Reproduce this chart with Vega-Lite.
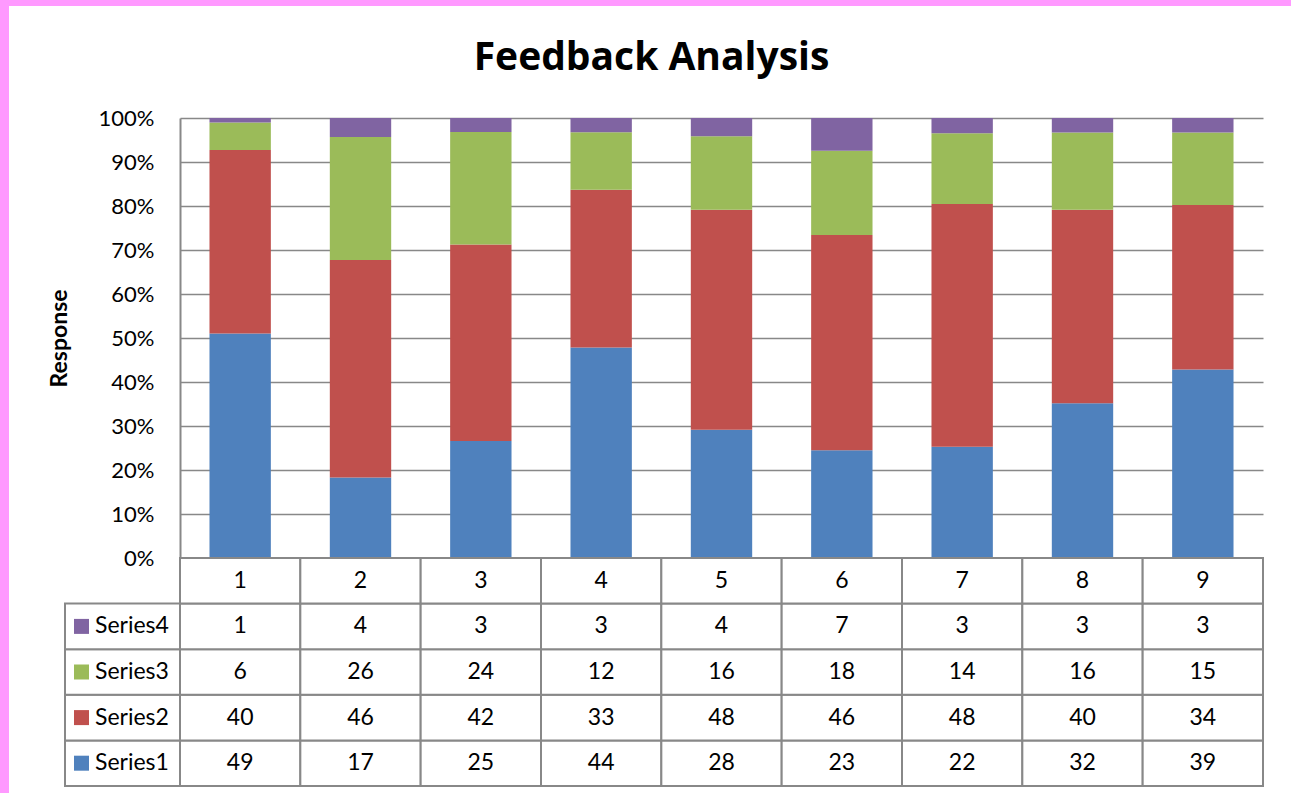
{
  "$schema": "https://vega.github.io/schema/vega-lite/v6.json",
  "background": "white",
  "padding": 0,
  "config": {
    "font": "Lato",
    "view": {"stroke": null},
    "text": {"font": "Lato", "fontSize": 23, "color": "black"}
  },
  "datasets": {
    "blank": [{}],
    "main": [
      {"category": "1", "series": "Series1", "value": 49},
      {"category": "1", "series": "Series2", "value": 40},
      {"category": "1", "series": "Series3", "value": 6},
      {"category": "1", "series": "Series4", "value": 1},
      {"category": "2", "series": "Series1", "value": 17},
      {"category": "2", "series": "Series2", "value": 46},
      {"category": "2", "series": "Series3", "value": 26},
      {"category": "2", "series": "Series4", "value": 4},
      {"category": "3", "series": "Series1", "value": 25},
      {"category": "3", "series": "Series2", "value": 42},
      {"category": "3", "series": "Series3", "value": 24},
      {"category": "3", "series": "Series4", "value": 3},
      {"category": "4", "series": "Series1", "value": 44},
      {"category": "4", "series": "Series2", "value": 33},
      {"category": "4", "series": "Series3", "value": 12},
      {"category": "4", "series": "Series4", "value": 3},
      {"category": "5", "series": "Series1", "value": 28},
      {"category": "5", "series": "Series2", "value": 48},
      {"category": "5", "series": "Series3", "value": 16},
      {"category": "5", "series": "Series4", "value": 4},
      {"category": "6", "series": "Series1", "value": 23},
      {"category": "6", "series": "Series2", "value": 46},
      {"category": "6", "series": "Series3", "value": 18},
      {"category": "6", "series": "Series4", "value": 7},
      {"category": "7", "series": "Series1", "value": 22},
      {"category": "7", "series": "Series2", "value": 48},
      {"category": "7", "series": "Series3", "value": 14},
      {"category": "7", "series": "Series4", "value": 3},
      {"category": "8", "series": "Series1", "value": 32},
      {"category": "8", "series": "Series2", "value": 40},
      {"category": "8", "series": "Series3", "value": 16},
      {"category": "8", "series": "Series4", "value": 3},
      {"category": "9", "series": "Series1", "value": 39},
      {"category": "9", "series": "Series2", "value": 34},
      {"category": "9", "series": "Series3", "value": 15},
      {"category": "9", "series": "Series4", "value": 3}
    ]
  },
  "columns": 3,
  "spacing": 0,
  "bounds": "flush",
  "align": "each",
  "concat": [
    {"width": 9, "height": 6, "data": {"name": "blank"}, "mark": {"type": "rect", "color": "#FF99FF"}, "encoding": {}},
    {"width": 171, "height": 6, "data": {"name": "blank"}, "mark": {"type": "rect", "color": "#FF99FF"}, "encoding": {}},
    {"width": 1111, "height": 6, "data": {"name": "blank"}, "mark": {"type": "rect", "color": "#FF99FF"}, "encoding": {}},

    {"width": 9, "height": 112, "data": {"name": "blank"}, "mark": {"type": "rect", "color": "#FF99FF"}, "encoding": {}},
    {"width": 171, "height": 112, "data": {"name": "blank"}, "mark": {"type": "point", "opacity": 0}, "encoding": {}},
    {"width": 1083, "height": 112, "data": {"name": "blank"}, "mark": {"type": "point", "opacity": 0}, "encoding": {}},

    {"width": 9, "height": 440, "data": {"name": "blank"}, "mark": {"type": "rect", "color": "#FF99FF"}, "encoding": {}},
    {"width": 171, "height": 440, "data": {"name": "blank"}, "mark": {"type": "point", "opacity": 0}, "encoding": {}},
    {
      "width": 1083,
      "height": 440,
      "title": {"text": "Feedback Analysis", "font": "Open Sans", "fontSize": 39, "fontWeight": "bold", "color": "black", "anchor": "middle", "frame": "group", "dx": -70, "offset": 29},
      "data": {"name": "main"},
      "mark": {"type": "bar"},
      "encoding": {
        "x": {"field": "category", "type": "nominal", "sort": ["1","2","3","4","5","6","7","8","9"], "scale": {"paddingInner": 0.49, "paddingOuter": 0.245}, "axis": null},
        "y": {
          "aggregate": "sum", "field": "value", "type": "quantitative", "stack": "normalize",
          "axis": {
            "title": "Response", "titleFont": "Lato", "titleFontSize": 23, "titleFontWeight": "bold", "titleColor": "black", "titlePadding": 27,
            "values": [0, 0.1, 0.2, 0.3, 0.4, 0.5, 0.6, 0.7, 0.8, 0.9, 1],
            "format": ".0%", "labelFont": "Lato", "labelFontSize": 22, "labelColor": "black", "labelPadding": 26,
            "ticks": false, "domainColor": "#888888", "domainWidth": 2,
            "grid": true, "gridColor": "#888888", "gridWidth": 1.5
          }
        },
        "color": {"field": "series", "type": "nominal", "scale": {"domain": ["Series1", "Series2", "Series3", "Series4"], "range": ["#4F81BD", "#C0504D", "#9BBB59", "#8064A2"]}, "legend": null},
        "order": {"field": "series", "sort": "ascending"}
      }
    },

    {"width": 9, "height": 235, "data": {"name": "blank"}, "mark": {"type": "rect", "color": "#FF99FF"}, "encoding": {}},
    {
      "width": 171,
      "height": 235,
      "data": {"name": "main"},
      "transform": [{"filter": "datum.category == '1'"}],
      "layer": [
        {
          "mark": {"type": "rect", "fill": "white", "stroke": "#888888", "strokeWidth": 2},
          "encoding": {
            "x": {"datum": "legend", "type": "nominal", "scale": {"domain": ["legend"], "paddingInner": 0, "paddingOuter": 0.2435, "align": 1}, "axis": null},
            "y": {"field": "series", "type": "nominal", "scale": {"domain": ["Category", "Series4", "Series3", "Series2", "Series1"], "paddingInner": 0, "paddingOuter": 0.0768, "align": 0}, "axis": null}
          }
        },
        {
          "mark": {"type": "square", "size": 225, "opacity": 1, "filled": true},
          "encoding": {
            "x": {"datum": "legend", "type": "nominal", "bandPosition": 0.1435},
            "y": {"field": "series", "type": "nominal"},
            "color": {"field": "series", "type": "nominal", "scale": {"domain": ["Series1", "Series2", "Series3", "Series4"], "range": ["#4F81BD", "#C0504D", "#9BBB59", "#8064A2"]}, "legend": null}
          }
        },
        {
          "mark": {"type": "text", "align": "left", "baseline": "middle", "fontSize": 23},
          "encoding": {
            "x": {"datum": "legend", "type": "nominal", "bandPosition": 0.261},
            "y": {"field": "series", "type": "nominal"},
            "text": {"field": "series"}
          }
        }
      ]
    },
    {
      "width": 1083,
      "height": 235,
      "data": {"name": "main"},
      "layer": [
        {
          "mark": {"type": "rect", "fill": "white", "stroke": "#888888", "strokeWidth": 2},
          "encoding": {
            "x": {"field": "category", "type": "nominal", "sort": ["1","2","3","4","5","6","7","8","9"], "scale": {"paddingInner": 0, "paddingOuter": 0}, "axis": null},
            "y": {"field": "series", "type": "nominal", "scale": {"domain": ["Category", "Series4", "Series3", "Series2", "Series1"], "paddingInner": 0, "paddingOuter": 0.0768, "align": 0}, "axis": null}
          }
        },
        {
          "transform": [{"filter": "datum.series == 'Series1'"}],
          "mark": {"type": "rect", "fill": "white", "stroke": "#888888", "strokeWidth": 2},
          "encoding": {
            "x": {"field": "category", "type": "nominal", "sort": ["1","2","3","4","5","6","7","8","9"]},
            "y": {"datum": "Category", "type": "nominal"}
          }
        },
        {
          "mark": {"type": "text", "align": "center", "baseline": "middle", "fontSize": 23},
          "encoding": {
            "x": {"field": "category", "type": "nominal", "sort": ["1","2","3","4","5","6","7","8","9"]},
            "y": {"field": "series", "type": "nominal"},
            "text": {"field": "value", "type": "quantitative"}
          }
        },
        {
          "transform": [{"filter": "datum.series == 'Series1'"}],
          "mark": {"type": "text", "align": "center", "baseline": "middle", "fontSize": 23},
          "encoding": {
            "x": {"field": "category", "type": "nominal", "sort": ["1","2","3","4","5","6","7","8","9"]},
            "y": {"datum": "Category", "type": "nominal"},
            "text": {"field": "category", "type": "nominal"}
          }
        }
      ]
    }
  ]
}
